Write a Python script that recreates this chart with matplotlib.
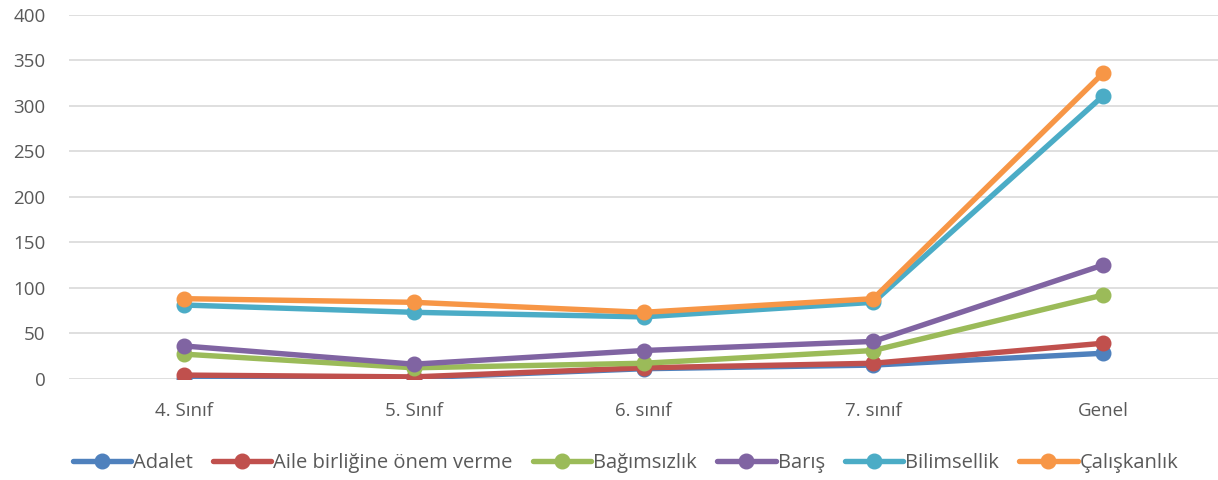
import numpy as np
import matplotlib.pyplot as plt

categories = ["4. Sınıf", "5. Sınıf", "6. sınıf", "7. sınıf", "Genel"]
adalet = [0, 1, 11, 15, 28]
aile = [4, 2, 12, 17, 39]
bagimsizlik = [27, 12, 17, 31, 92]
baris = [36, 16, 31, 41, 125]
bilimsellik = [81, 73, 68, 84, 311]
caliskanlik = [88, 84, 73, 88, 336]

series = [
    ("Adalet", adalet, "#4F81BD"),
    ("Aile birliğine önem verme", aile, "#C0504D"),
    ("Bağımsızlık", bagimsizlik, "#9BBB59"),
    ("Barış", baris, "#8064A2"),
    ("Bilimsellik", bilimsellik, "#4BACC6"),
    ("Çalışkanlık", caliskanlik, "#F79646"),
]

plt.rcParams['font.family'] = ['Open Sans', 'DejaVu Sans']

fig = plt.figure(figsize=(12.18, 4.8), dpi=100)
ax = fig.add_axes([0.0567, 0.211, 0.9433, 0.758])

x = np.arange(len(categories))
for name, vals, color in series:
    ax.plot(x, vals, color=color, lw=3.9, marker="o", ms=10.5,
            solid_capstyle="round", label=name)

ax.set_xlim(-0.5, 4.5)
ax.set_ylim(0, 400)
ax.set_yticks(range(0, 401, 50))
ax.set_xticks(x)
ax.set_xticklabels(categories)
ax.grid(axis="y", color="#D9D9D9", lw=1.2)
ax.set_axisbelow(True)
for s in ax.spines.values():
    s.set_visible(False)
ax.tick_params(length=0, labelsize=13.5, colors="#595959")
ax.tick_params(axis="y", pad=17)
ax.tick_params(axis="x", pad=17)

ax.legend(loc="center", bbox_to_anchor=(0.4843, -0.232), ncol=6,
          frameon=False, fontsize=14.5, handlelength=2.9, handletextpad=0.1,
          columnspacing=1.0, labelcolor="#595959")

fig.savefig("out.png", dpi=100)
